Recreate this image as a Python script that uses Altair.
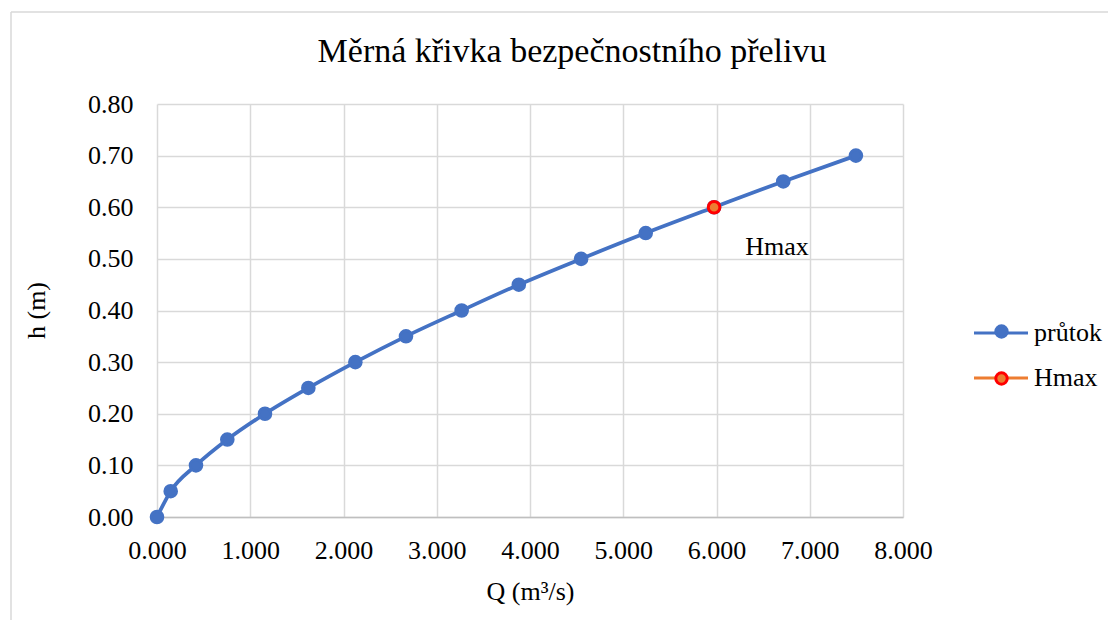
import altair as alt
import pandas as pd

FONT = "Liberation Serif"

# data
h_values = [0.00, 0.05, 0.10, 0.15, 0.20, 0.25, 0.30, 0.35, 0.40, 0.45, 0.50, 0.55, 0.60, 0.65, 0.70]
q_values = [0.0, 0.147, 0.418, 0.754, 1.158, 1.623, 2.127, 2.670, 3.267, 3.880, 4.548, 5.241, 5.974, 6.716, 7.495]
hmax_q = [5.974]
hmax_h = [0.60]
series_names = ["průtok", "Hmax"]
x_ticks = [0, 1, 2, 3, 4, 5, 6, 7, 8]
y_ticks = [0.0, 0.1, 0.2, 0.3, 0.4, 0.5, 0.6, 0.7, 0.8]
line_colors = ["#4472C4", "#ED7D31"]
marker_stroke_colors = ["#4472C4", "#FF0000"]

df = pd.DataFrame({
    "Q": q_values + hmax_q,
    "h": h_values + hmax_h,
    "series": ["průtok"] * len(q_values) + ["Hmax"] * len(hmax_q),
})
df["series2"] = df["series"]

hmax_df = pd.DataFrame({"Q": hmax_q, "h": hmax_h, "label": ["Hmax"]})
one_row = pd.DataFrame({"k": [0]})

x_enc = alt.X("Q:Q", scale=alt.Scale(domain=[0, 8], nice=False),
              axis=alt.Axis(values=x_ticks, format=".3f", title="Q (m³/s)",
                            labelPadding=20, titleY=74, titleBaseline="middle",
                            labelFlush=False,
                            domainColor="#BFBFBF", domainWidth=1.5))
y_enc = alt.Y("h:Q", scale=alt.Scale(domain=[0, 0.8], nice=False),
              axis=alt.Axis(values=y_ticks, format=".2f", title="h (m)",
                            labelPadding=24, domain=False, labelFlush=False,
                            titleAngle=270, titleX=-121, titleY=206,
                            titleBaseline="middle", titleAlign="center"))

border_v = alt.Chart(one_row).mark_rule(color="#D9D9D9", strokeWidth=1.5).encode(
    x=alt.value(-146), y=alt.value(-92), y2=alt.value(700))
border_h = alt.Chart(one_row).mark_rule(color="#D9D9D9", strokeWidth=1.5).encode(
    x=alt.value(-146), x2=alt.value(1100), y=alt.value(-92))

line = alt.Chart(df).mark_line(strokeWidth=3.75, interpolate="monotone").encode(
    x=x_enc, y=y_enc,
    stroke=alt.Stroke("series:N",
                      scale=alt.Scale(domain=series_names, range=line_colors),
                      legend=alt.Legend(title=None, orient="none", legendX=829, legendY=214,
                                        symbolType="M-2,0H2", symbolSize=729,
                                        symbolStrokeWidth=3, labelFont=FONT, labelFontSize=26,
                                        labelColor="black", labelOffset=18, rowPadding=17,
                                        padding=0)),
)

legend_pts = alt.Legend(title=None, orient="none", legendX=831.5, legendY=214.5,
                        symbolType="circle", symbolSize=130, symbolStrokeWidth=3,
                        labelFont=FONT, labelFontSize=26, labelExpr="''",
                        rowPadding=21, padding=0)

points = alt.Chart(df).mark_point(shape="circle", filled=True, size=135, strokeWidth=3,
                                  opacity=1).encode(
    x=x_enc, y=y_enc,
    fill=alt.Fill("series2:N", scale=alt.Scale(domain=series_names, range=line_colors),
                  legend=legend_pts),
    stroke=alt.Stroke("series2:N", scale=alt.Scale(domain=series_names, range=marker_stroke_colors),
                      legend=legend_pts),
)

label = alt.Chart(hmax_df).mark_text(font=FONT, fontSize=26, color="black", dx=63, dy=40,
                                     align="center", baseline="middle").encode(
    x=x_enc, y=y_enc, text="label:N")

chart = alt.layer(border_v, border_h, line, points, label).resolve_scale(
    stroke="independent", fill="independent"
).properties(
    width=746, height=413,
    padding={"left": 149, "top": 96, "right": 205, "bottom": 103},
    autosize=alt.AutoSizeParams(type="none"),
    title=alt.TitleParams("Měrná křivka bezpečnostního přelivu", font=FONT, fontSize=34,
                          fontWeight="normal", color="black", anchor="middle", dx=42,
                          dy=80, offset=22),
).configure_view(stroke=None).configure_axis(
    labelFont=FONT, labelFontSize=26, labelColor="black",
    titleFont=FONT, titleFontSize=26, titleFontWeight="normal", titleColor="black",
    gridColor="#D9D9D9", gridWidth=1.5, ticks=False, tickSize=0,
)

chart.save("out.html", embed_options={"renderer": "svg", "actions": False})
